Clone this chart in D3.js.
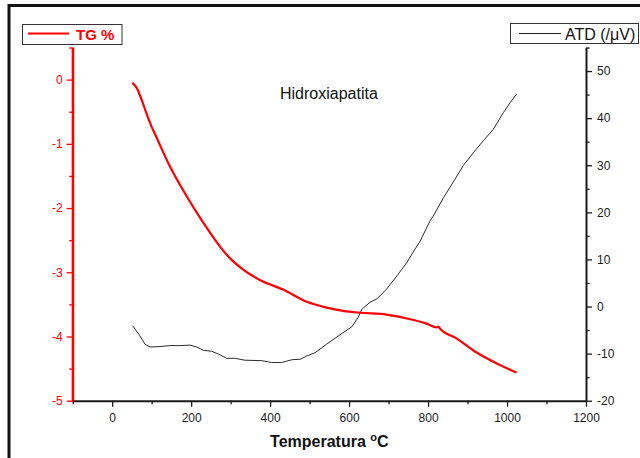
<!DOCTYPE html>
<html>
<head>
<meta charset="utf-8">
<script src="https://cdn.jsdelivr.net/npm/d3@7"></script>
<style>
  html, body { margin: 0; padding: 0; background: #fff; }
  svg { display: block; font-family: "Liberation Sans", Arial, sans-serif; }
</style>
</head>
<body>
<svg id="chart" width="640" height="458"></svg>
<script>
// Thermogravimetric curve (TG, % mass change) vs temperature (°C)
const tgTemp = [51, 56, 63, 70, 78, 87, 99, 113, 146, 189, 231, 273, 298, 330, 374, 433, 493, 543, 585, 628, 695, 746, 796, 822, 826, 830, 872, 923, 974, 1024];
const tgMass = [-0.05, -0.08, -0.14, -0.24, -0.37, -0.53, -0.72, -0.91, -1.35, -1.82, -2.23, -2.60, -2.78, -2.95, -3.12, -3.27, -3.46, -3.55, -3.60, -3.63, -3.66, -3.72, -3.80, -3.86, -3.845, -3.875, -4.03, -4.25, -4.42, -4.56];

// Differential thermal analysis curve (ATD, µV) vs temperature (°C)
const atdTemp = [52, 70, 83, 96, 121, 146, 172, 197, 214, 231, 252, 269, 290, 311, 336, 379, 404, 429, 455, 476, 493, 514, 543, 577, 607, 623, 632, 653, 670, 695, 721, 746, 767, 780, 805, 813, 839, 868, 889, 915, 940, 965, 991, 1008, 1024];
const atdSignal = [-4.1, -6.2, -8.0, -8.6, -8.5, -8.3, -8.3, -8.2, -8.6, -9.3, -9.5, -10.1, -11.0, -11.0, -11.4, -11.5, -11.9, -11.9, -11.3, -11.2, -10.5, -9.8, -8.0, -6.0, -4.3, -2.3, -0.6, 0.9, 1.6, 3.7, 6.5, 9.3, 12.2, 13.9, 18.2, 19.2, 23.1, 27.0, 29.9, 32.7, 35.2, 37.6, 41.2, 43.3, 45.1];

// Axis ticks
const xTicks = [0, 200, 400, 600, 800, 1000, 1200];
const xMinorTicks = [-100, 100, 300, 500, 700, 900, 1100];
const tgTicks = [-5, -4, -3, -2, -1, 0];
const tgMinorTicks = [-4.5, -3.5, -2.5, -1.5, -0.5, 0.5];
const atdTicks = [-20, -10, 0, 10, 20, 30, 40, 50];
const atdMinorTicks = [-15, -5, 5, 15, 25, 35, 45, 55];

const RED = "#ff0000";
const INK = "#1a1a1a";
const plain = d => String(d);   // hyphen-minus labels

const svg = d3.select("#chart");

// white page and outer frame
svg.append("rect").attr("width", 640).attr("height", 458).attr("fill", "#fff");
svg.append("rect")
  .attr("x", 9).attr("y", 5.5).attr("width", 720).attr("height", 520)
  .attr("fill", "none").attr("stroke", "#111").attr("stroke-width", 3);

const plot = { left: 72.7, right: 586, top: 47.5, bottom: 400.7 };

const x = d3.scaleLinear().domain([-100, 1200]).range([plot.left, plot.right]);
const yTG = d3.scaleLinear().domain([-5, 0.5]).range([plot.bottom, plot.top]);
const yATD = d3.scaleLinear().domain([-20, 55]).range([plot.bottom, plot.top]);

function styleAxis(g, color, width) {
  g.select(".domain").attr("stroke", color).attr("stroke-width", width);
  g.selectAll(".tick line").attr("stroke", color).attr("stroke-width", 1.3);
  g.selectAll(".tick text").attr("fill", color).attr("font-size", 12)
    .attr("font-family", "'Liberation Sans', Arial, sans-serif");
}

// left TG axis (red)
const gL = svg.append("g").attr("transform", `translate(${plot.left},0)`);
gL.call(d3.axisLeft(yTG).tickValues(tgMinorTicks).tickSize(3.5).tickSizeOuter(0).tickFormat(""));
gL.call(g => styleAxis(g, RED, 2));
const gL2 = svg.append("g").attr("transform", `translate(${plot.left},0)`);
gL2.call(d3.axisLeft(yTG).tickValues(tgTicks).tickSize(6).tickPadding(4).tickFormat(plain));
gL2.select(".domain").remove();
gL2.call(g => styleAxis(g, RED, 2));

// right ATD axis (black)
const gR = svg.append("g").attr("transform", `translate(${plot.right},0)`);
gR.call(d3.axisRight(yATD).tickValues(atdMinorTicks).tickSize(3.5).tickSizeOuter(0).tickFormat(""));
gR.call(g => styleAxis(g, INK, 2));
const gR2 = svg.append("g").attr("transform", `translate(${plot.right},0)`);
gR2.call(d3.axisRight(yATD).tickValues(atdTicks).tickSize(6).tickPadding(5).tickFormat(plain));
gR2.select(".domain").remove();
gR2.call(g => styleAxis(g, INK, 2));

// bottom temperature axis
const gB = svg.append("g").attr("transform", `translate(0,${plot.bottom})`);
gB.call(d3.axisBottom(x).tickValues(xMinorTicks).tickSize(3.5).tickSizeOuter(0).tickFormat(""));
gB.call(g => styleAxis(g, INK, 2));
const gB2 = svg.append("g").attr("transform", `translate(0,${plot.bottom})`);
gB2.call(d3.axisBottom(x).tickValues(xTicks).tickSize(6).tickPadding(7).tickFormat(plain));
gB2.select(".domain").remove();
gB2.call(g => styleAxis(g, INK, 2));

// red left spine drawn over the bottom axis corner
svg.append("line")
  .attr("x1", plot.left).attr("x2", plot.left)
  .attr("y1", plot.top).attr("y2", plot.bottom + 1)
  .attr("stroke", RED).attr("stroke-width", 2);

// curves
const atdLine = d3.line()
  .x((d, i) => x(atdTemp[i]))
  .y((d, i) => yATD(atdSignal[i]));
svg.append("path")
  .datum(atdTemp)
  .attr("d", atdLine)
  .attr("fill", "none").attr("stroke", "#2a2a2a").attr("stroke-width", 1);

const tgLine = d3.line()
  .x((d, i) => x(tgTemp[i]))
  .y((d, i) => yTG(tgMass[i]))
  .curve(d3.curveMonotoneX);
svg.append("path")
  .datum(tgTemp)
  .attr("d", tgLine)
  .attr("fill", "none").attr("stroke", RED).attr("stroke-width", 2.2);

// sample name
svg.append("text")
  .attr("x", 280).attr("y", 99)
  .attr("font-size", 16).attr("fill", "#111")
  .text("Hidroxiapatita");

// x-axis title
const xt = svg.append("text")
  .attr("x", (plot.left + plot.right) / 2).attr("y", 446.7)
  .attr("text-anchor", "middle")
  .attr("font-size", 16).attr("font-weight", "bold").attr("fill", "#111");
xt.append("tspan").text("Temperatura ");
xt.append("tspan").attr("font-size", 11).attr("dy", -6).text("o");
xt.append("tspan").attr("dy", 6).text("C");

// legend: TG
svg.append("rect")
  .attr("x", 22.5).attr("y", 24.5).attr("width", 99.5).attr("height", 20)
  .attr("fill", "#fff").attr("stroke", "#333").attr("stroke-width", 1);
svg.append("line")
  .attr("x1", 28).attr("x2", 69).attr("y1", 33.5).attr("y2", 33.5)
  .attr("stroke", RED).attr("stroke-width", 2);
svg.append("text")
  .attr("x", 76).attr("y", 40.3)
  .attr("font-size", 15).attr("font-weight", "bold").attr("fill", RED)
  .text("TG %");

// legend: ATD
svg.append("rect")
  .attr("x", 510.5).attr("y", 23.5).attr("width", 128).attr("height", 20)
  .attr("fill", "#fff").attr("stroke", "#333").attr("stroke-width", 1);
svg.append("line")
  .attr("x1", 519).attr("x2", 561).attr("y1", 33.5).attr("y2", 33.5)
  .attr("stroke", "#222").attr("stroke-width", 1);
svg.append("text")
  .attr("x", 565).attr("y", 39.5)
  .attr("font-size", 16).attr("fill", "#111")
  .text("ATD (/μV)");
</script>
</body>
</html>
